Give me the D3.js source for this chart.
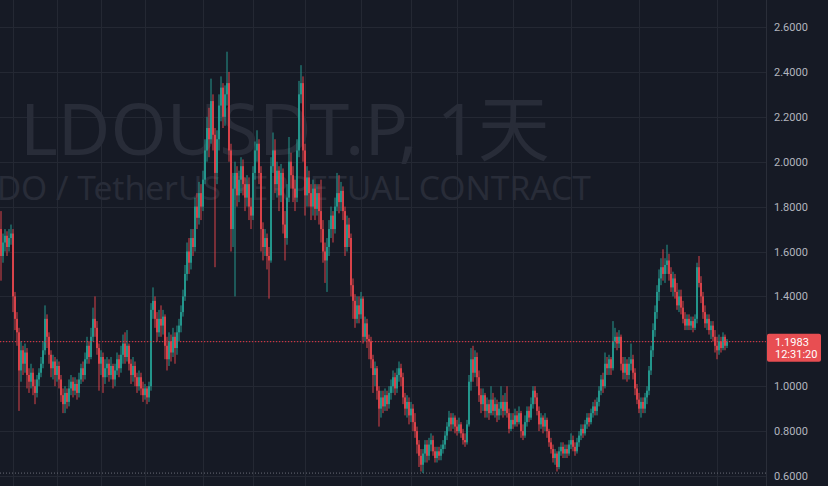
<!DOCTYPE html>
<html>
<head>
<meta charset="utf-8">
<script src="https://cdn.jsdelivr.net/npm/d3@7"></script>
<style>
  html, body { margin: 0; padding: 0; background: #161a25; }
  svg { display: block; }
</style>
</head>
<body>
<svg id="chart" width="828" height="486"></svg>
<script>
// daily candles, open = previous close
var firstOpen = 1.70;
var closes = [
  1.58,1.64,1.67,1.62,1.66,1.68,1.40,1.30,1.24,1.07,
  1.16,1.10,1.15,1.05,1.02,1.06,1.00,0.97,1.03,1.06,
  1.10,1.16,1.30,1.22,1.14,1.08,1.11,1.05,1.09,1.03,
  0.96,0.92,0.97,0.93,0.99,1.02,0.98,1.01,0.97,1.03,
  1.08,1.05,1.12,1.18,1.13,1.22,1.30,1.26,1.17,1.10,
  1.13,1.04,1.08,1.10,1.05,1.09,1.03,1.07,1.12,1.08,
  1.14,1.19,1.13,1.18,1.10,1.05,1.09,1.04,1.00,1.04,
  0.99,0.96,0.99,0.95,1.00,1.34,1.38,1.30,1.24,1.30,
  1.27,1.31,1.18,1.12,1.20,1.15,1.22,1.17,1.24,1.27,
  1.33,1.40,1.50,1.60,1.55,1.66,1.62,1.80,1.75,1.86,
  1.80,1.92,2.05,2.15,2.10,2.27,2.12,1.95,2.10,2.25,
  2.33,2.20,2.30,2.35,2.05,1.70,1.88,1.95,1.85,1.92,
  1.98,1.90,1.84,1.90,1.80,1.76,1.95,2.05,2.08,1.95,
  1.70,1.62,1.66,1.58,1.56,1.98,2.05,1.90,1.96,1.85,
  1.95,1.72,1.66,1.84,2.00,1.94,1.88,1.84,2.05,2.30,
  2.35,2.05,1.85,1.93,1.86,1.80,1.88,1.79,1.86,1.78,
  1.70,1.60,1.56,1.62,1.70,1.76,1.70,1.80,1.86,1.82,
  1.87,1.78,1.62,1.72,1.66,1.45,1.38,1.30,1.36,1.32,
  1.39,1.22,1.28,1.21,1.20,1.12,1.05,1.08,0.98,0.90,
  0.95,0.91,0.96,0.92,0.97,1.00,1.04,0.99,1.05,1.08,
  1.04,0.95,0.90,0.93,0.87,0.90,0.84,0.80,0.74,0.69,
  0.65,0.70,0.74,0.69,0.74,0.76,0.71,0.68,0.71,0.69,
  0.72,0.74,0.78,0.82,0.86,0.83,0.86,0.82,0.80,0.83,
  0.79,0.76,0.75,0.83,1.02,1.12,1.06,1.13,1.04,0.96,
  0.92,0.96,0.89,0.92,0.88,0.94,0.89,0.92,0.87,0.90,
  0.93,0.89,0.93,0.88,0.81,0.85,0.83,0.87,0.84,0.88,
  0.80,0.78,0.84,0.89,0.86,0.92,0.98,0.95,0.89,0.83,
  0.86,0.82,0.85,0.80,0.75,0.72,0.68,0.70,0.64,0.71,
  0.73,0.70,0.72,0.70,0.74,0.76,0.73,0.71,0.75,0.78,
  0.81,0.79,0.83,0.86,0.84,0.88,0.91,0.89,0.93,0.98,
  1.03,1.00,1.10,1.08,1.12,1.08,1.20,1.22,1.19,1.22,
  1.10,1.06,1.10,1.05,1.10,1.12,1.06,0.99,0.94,0.90,
  0.93,0.90,0.95,0.98,1.07,1.16,1.25,1.33,1.42,1.48,
  1.53,1.50,1.54,1.56,1.50,1.44,1.48,1.42,1.36,1.40,
  1.35,1.30,1.27,1.30,1.27,1.29,1.26,1.30,1.53,1.46,
  1.40,1.33,1.28,1.30,1.25,1.27,1.22,1.18,1.16,1.20,1.17,1.22,1.18,1.1983
];
var highs = [
  1.78,1.68,1.70,1.69,1.70,1.72,1.70,1.42,1.33,1.26,
  1.20,1.18,1.19,1.17,1.08,1.10,1.08,1.03,1.05,1.08,
  1.13,1.20,1.36,1.32,1.24,1.16,1.14,1.13,1.12,1.11,
  1.05,0.99,1.00,0.99,1.03,1.05,1.04,1.04,1.03,1.06,
  1.10,1.11,1.15,1.22,1.20,1.26,1.35,1.40,1.29,1.19,
  1.16,1.15,1.12,1.13,1.12,1.13,1.10,1.10,1.15,1.14,
  1.18,1.23,1.24,1.25,1.19,1.12,1.13,1.11,1.06,1.07,
  1.06,1.02,1.01,1.00,1.02,1.37,1.44,1.40,1.33,1.34,
  1.36,1.34,1.32,1.22,1.24,1.23,1.26,1.24,1.27,1.30,
  1.36,1.43,1.54,1.64,1.66,1.70,1.70,1.84,1.86,1.91,
  1.90,1.96,2.10,2.20,2.24,2.37,2.30,2.15,2.14,2.30,
  2.38,2.35,2.34,2.49,2.40,2.08,1.95,2.00,1.98,1.96,
  2.02,2.01,1.93,1.94,1.93,1.84,1.98,2.09,2.14,2.10,
  1.98,1.73,1.70,1.68,1.62,2.02,2.13,2.10,2.00,1.98,
  1.99,1.97,1.78,1.90,2.11,2.04,1.98,1.92,2.10,2.36,
  2.43,2.38,2.08,1.98,1.96,1.90,1.92,1.90,1.90,1.90,
  1.92,1.74,1.64,1.66,1.74,1.80,1.78,1.84,1.95,1.94,
  1.91,1.89,1.80,1.76,1.75,1.68,1.48,1.41,1.40,1.40,
  1.42,1.40,1.31,1.30,1.23,1.22,1.14,1.11,1.09,1.00,
  0.98,0.98,0.99,0.98,1.00,1.03,1.07,1.06,1.08,1.11,
  1.10,1.06,0.97,0.96,0.95,0.93,0.92,0.88,0.82,0.76,
  0.72,0.72,0.76,0.76,0.77,0.79,0.78,0.73,0.73,0.73,
  0.74,0.76,0.80,0.84,0.89,0.88,0.88,0.87,0.85,0.86,
  0.84,0.81,0.79,0.85,1.05,1.17,1.18,1.16,1.15,1.07,
  0.99,0.99,0.97,0.95,0.94,1.00,0.97,0.95,0.94,0.93,
  1.00,0.96,0.97,1.00,0.90,0.88,0.88,0.90,0.89,0.91,
  0.89,0.83,0.87,0.91,0.91,0.95,1.00,1.00,0.97,0.91,
  0.88,0.87,0.88,0.86,0.81,0.77,0.74,0.72,0.71,0.73,
  0.75,0.75,0.74,0.74,0.76,0.79,0.78,0.75,0.77,0.80,
  0.83,0.83,0.85,0.88,0.88,0.90,0.93,0.94,0.95,1.00,
  1.05,1.06,1.15,1.13,1.14,1.13,1.29,1.26,1.24,1.25,
  1.23,1.13,1.13,1.12,1.13,1.19,1.14,1.08,1.01,0.97,
  0.95,0.95,0.97,1.00,1.09,1.18,1.28,1.36,1.45,1.52,
  1.57,1.61,1.57,1.63,1.59,1.53,1.51,1.50,1.46,1.43,
  1.43,1.38,1.33,1.32,1.32,1.31,1.31,1.32,1.55,1.58,
  1.49,1.42,1.36,1.32,1.32,1.29,1.29,1.25,1.22,1.23,1.22,1.24,1.23,1.21
];
var lows = [
  1.47,1.55,1.60,1.58,1.60,1.63,1.33,1.25,1.18,0.89,
  1.02,1.05,1.06,0.99,0.97,0.99,0.96,0.92,0.95,1.00,
  1.04,1.08,1.14,1.17,1.10,1.04,1.03,1.00,1.02,0.99,
  0.93,0.88,0.88,0.90,0.91,0.96,0.95,0.96,0.94,0.95,
  1.01,1.02,1.03,1.10,1.10,1.12,1.20,1.22,1.14,0.98,
  1.05,0.97,1.01,1.04,1.02,1.03,0.99,1.00,1.05,1.04,
  1.06,1.10,1.10,1.11,1.07,1.01,1.02,1.00,0.97,0.98,
  0.96,0.93,0.94,0.92,0.93,0.98,1.30,1.26,1.20,1.22,
  1.22,1.23,1.12,1.07,1.09,1.11,1.13,1.10,1.14,1.20,
  1.24,1.31,1.38,1.47,1.50,1.52,1.58,1.60,1.70,1.72,
  1.74,1.78,1.90,2.00,2.02,2.08,2.05,1.53,1.90,2.05,
  2.18,2.15,2.16,2.25,2.00,1.60,1.62,1.40,1.80,1.82,
  1.86,1.85,1.78,1.80,1.74,1.70,1.74,1.92,2.00,1.90,
  1.60,1.56,1.58,1.52,1.39,1.55,1.95,1.86,1.84,1.78,
  1.82,1.68,1.56,1.63,1.82,1.88,1.82,1.78,1.82,2.02,
  2.26,2.00,1.76,1.80,1.80,1.74,1.76,1.74,1.76,1.72,
  1.64,1.55,1.46,1.42,1.58,1.66,1.64,1.68,1.78,1.77,
  1.78,1.74,1.58,1.60,1.62,1.40,1.30,1.26,1.28,1.28,
  1.30,1.19,1.20,1.17,1.12,1.08,0.97,1.00,0.94,0.82,
  0.86,0.88,0.89,0.89,0.90,0.94,0.97,0.96,0.97,1.02,
  1.00,0.92,0.87,0.86,0.83,0.84,0.80,0.77,0.70,0.64,
  0.62,0.613,0.66,0.66,0.67,0.71,0.69,0.66,0.66,0.67,
  0.67,0.70,0.72,0.76,0.80,0.80,0.81,0.79,0.78,0.79,
  0.77,0.74,0.73,0.74,0.82,0.98,1.02,1.04,1.00,0.93,
  0.88,0.89,0.86,0.86,0.85,0.87,0.87,0.86,0.84,0.85,
  0.87,0.86,0.87,0.86,0.79,0.80,0.81,0.82,0.82,0.83,
  0.77,0.76,0.77,0.82,0.84,0.85,0.90,0.92,0.87,0.80,
  0.81,0.79,0.80,0.77,0.73,0.70,0.66,0.65,0.62,0.63,
  0.69,0.68,0.68,0.68,0.69,0.72,0.71,0.69,0.70,0.73,
  0.76,0.77,0.78,0.81,0.82,0.83,0.86,0.87,0.87,0.91,
  0.96,0.97,0.99,1.05,1.05,1.05,1.07,1.17,1.16,1.17,
  1.07,1.03,1.03,1.02,1.03,1.07,1.03,0.96,0.92,0.88,
  0.86,0.88,0.88,0.92,0.96,1.05,1.13,1.22,1.30,1.38,
  1.45,1.47,1.46,1.50,1.47,1.42,1.40,1.39,1.34,1.33,
  1.32,1.28,1.25,1.25,1.25,1.25,1.24,1.25,1.28,1.44,
  1.37,1.30,1.26,1.25,1.23,1.21,1.20,1.15,1.12,1.14,1.15,1.16,1.16,1.17
];

var priceTicks = [0.6, 0.8, 1.0, 1.2, 1.4, 1.6, 1.8, 2.0, 2.2, 2.4, 2.6];
var timeGrid = [6, 28, 50, 72, 101, 126, 152, 180, 205, 228, 256, 285, 319, 358];
var lastPrice = 1.1983;
var countdown = "12:31:20";
var titleText = "LDOUSDT.P, 1天";
var subText = "LDO / TetherUS PERPETUAL CONTRACT";

var svg = d3.select("#chart"),
    width = +svg.attr("width"),
    height = +svg.attr("height");

var paneRight = 766;
var up = "#26a69a", down = "#f0474f";

var candles = closes.map(function(c, i) {
  var o = i === 0 ? firstOpen : closes[i - 1];
  return {i: i, o: o, h: Math.max(highs[i], o, c), l: Math.min(lows[i], o, c), c: c};
});

var x = d3.scaleLinear().domain([0, candles.length - 1]).range([1, 727]);
var y = d3.scaleLinear().domain([0.6, 2.6]).range([476, 27]);

svg.append("rect").attr("width", width).attr("height", height).attr("fill", "#161a25");

svg.append("clipPath").attr("id", "pane")
  .append("rect").attr("width", paneRight).attr("height", height);

var pane = svg.append("g").attr("clip-path", "url(#pane)");

// grid
pane.selectAll(".hgrid")
  .data(priceTicks)
  .enter().append("line")
  .attr("x1", 0).attr("x2", paneRight)
  .attr("y1", function(d) { return Math.round(y(d)) + 0.5; })
  .attr("y2", function(d) { return Math.round(y(d)) + 0.5; })
  .attr("stroke", "#242833");

pane.selectAll(".vgrid")
  .data(timeGrid)
  .enter().append("line")
  .attr("x1", function(d) { return Math.round(x(d)) + 0.5; })
  .attr("x2", function(d) { return Math.round(x(d)) + 0.5; })
  .attr("y1", 0).attr("y2", height)
  .attr("stroke", "#242833");

// watermark
function fitText(sel, target) {
  var size = +sel.attr("font-size");
  var w = sel.node().getComputedTextLength();
  sel.attr("font-size", size * target / w);
}
var wm = pane.append("text")
  .attr("x", 285).attr("y", 155)
  .attr("text-anchor", "middle")
  .attr("font-family", "'Noto Sans', 'Noto Sans CJK SC', sans-serif")
  .attr("font-size", 76)
  .attr("fill", "#282c38")
  .text(titleText);
fitText(wm, 530);

var wm2 = pane.append("text")
  .attr("x", 285).attr("y", 200)
  .attr("text-anchor", "middle")
  .attr("font-family", "'Noto Sans', sans-serif")
  .attr("font-size", 32)
  .attr("fill", "#282c38")
  .text(subText);
fitText(wm2, 612);

// period low line
pane.append("line")
  .attr("x1", 0).attr("x2", paneRight)
  .attr("y1", y(d3.min(lows))).attr("y2", y(d3.min(lows)))
  .attr("stroke", "#6a6d78")
  .attr("stroke-dasharray", "1,2");

// candles
var bar = pane.selectAll(".candle")
  .data(candles)
  .enter().append("g")
  .attr("class", "candle");

bar.append("line")
  .attr("x1", function(d) { return x(d.i); })
  .attr("x2", function(d) { return x(d.i); })
  .attr("y1", function(d) { return y(d.h); })
  .attr("y2", function(d) { return y(d.l); })
  .attr("stroke", function(d) { return d.c >= d.o ? up : down; })
  .attr("stroke-width", 0.9);

bar.append("rect")
  .attr("x", function(d) { return x(d.i) - 0.8; })
  .attr("width", 1.6)
  .attr("y", function(d) { return y(Math.max(d.o, d.c)); })
  .attr("height", function(d) { return Math.max(1, Math.abs(y(d.o) - y(d.c))); })
  .attr("fill", function(d) { return d.c >= d.o ? up : down; });

// last price line
pane.append("line")
  .attr("x1", 0).attr("x2", paneRight)
  .attr("y1", y(lastPrice)).attr("y2", y(lastPrice))
  .attr("stroke", "#f23645")
  .attr("stroke-dasharray", "1.2,1.8");

// price scale
svg.append("line")
  .attr("x1", paneRight + 0.5).attr("x2", paneRight + 0.5)
  .attr("y1", 0).attr("y2", height)
  .attr("stroke", "#2a2e39");

var axis = svg.append("g")
  .attr("transform", "translate(" + paneRight + ",0)")
  .call(d3.axisRight(y).tickValues(priceTicks).tickFormat(d3.format(".4f")).tickSize(0).tickPadding(8));
axis.select(".domain").remove();
axis.selectAll("text")
  .attr("fill", "#b2b5be")
  .attr("font-family", "Roboto, sans-serif")
  .attr("font-size", 11);

// last price label
var tag = svg.append("g").attr("transform", "translate(" + paneRight + "," + (y(lastPrice) - 8) + ")");
tag.append("rect")
  .attr("x", 1).attr("width", 54).attr("height", 28).attr("rx", 2)
  .attr("fill", "#e84e52");
tag.append("text")
  .attr("x", 9).attr("y", 12)
  .attr("fill", "#ffffff")
  .attr("font-family", "Roboto, sans-serif")
  .attr("font-size", 11)
  .text(d3.format(".4f")(lastPrice));
tag.append("text")
  .attr("x", 9).attr("y", 24)
  .attr("fill", "#ffffff")
  .attr("font-family", "Roboto, sans-serif")
  .attr("font-size", 11)
  .text(countdown);
</script>
</body>
</html>
